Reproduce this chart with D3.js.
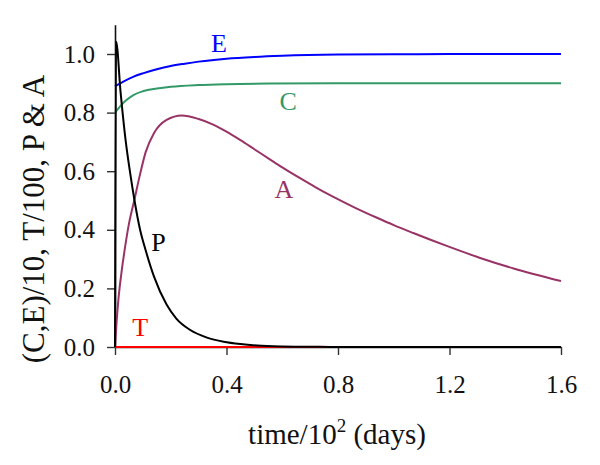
<!DOCTYPE html>
<html>
<head>
<meta charset="utf-8">
<script src="https://cdn.jsdelivr.net/npm/d3@7"></script>
<style>
  html, body { margin: 0; padding: 0; background: #fff; }
  svg { display: block; }
  text { font-family: "Liberation Serif", "Times New Roman", serif; }
</style>
</head>
<body>
<svg id="chart" width="600" height="465"></svg>
<script>
// ---- data (time in units of 10^2 days) ----
const xTicks = [0.0, 0.4, 0.8, 1.2, 1.6];
const yTicks = [0.0, 0.2, 0.4, 0.6, 0.8, 1.0];

const seriesNames = ["T", "A", "C", "E", "P"];
const seriesColors = ["#ff0000", "#993366", "#339966", "#0000ff", "#000000"];

const tE = [0, 0.03, 0.065, 0.1, 0.15, 0.2, 0.25, 0.3, 0.4, 0.5, 0.6, 0.8, 1.0, 1.2, 1.6];
const vE = [0.89, 0.906, 0.922, 0.934, 0.948, 0.959, 0.967, 0.974, 0.984, 0.990, 0.994, 0.998, 0.999, 1.0, 1.0];

const tC = [0, 0.02, 0.04, 0.066, 0.1, 0.15, 0.2, 0.3, 0.4, 0.55, 0.8, 1.2, 1.6];
const vC = [0.80, 0.823, 0.842, 0.860, 0.873, 0.882, 0.888, 0.894, 0.897, 0.899, 0.90, 0.90, 0.90];

const tA = [0, 0.006, 0.012, 0.024, 0.036, 0.05, 0.069, 0.09, 0.11, 0.14, 0.185, 0.24, 0.3, 0.35, 0.4, 0.45, 0.5, 0.55, 0.6, 0.664, 0.72, 0.78, 0.86, 0.94, 1.0, 1.07, 1.19, 1.31, 1.43, 1.6];
const vA = [0, 0.09, 0.16, 0.26, 0.34, 0.42, 0.50, 0.59, 0.665, 0.73, 0.775, 0.79, 0.778, 0.760, 0.735, 0.706, 0.675, 0.644, 0.613, 0.576, 0.545, 0.514, 0.476, 0.441, 0.416, 0.389, 0.345, 0.304, 0.268, 0.225];

const tP = [0, 0.004, 0.02, 0.038, 0.055, 0.07, 0.09, 0.11, 0.14, 0.185, 0.22, 0.27, 0.33, 0.39, 0.45, 0.51, 0.6, 0.7, 0.8, 1.0, 1.2, 1.6];
const vP = [0, 1.042, 0.87, 0.706, 0.59, 0.50, 0.40, 0.33, 0.24, 0.145, 0.097, 0.058, 0.032, 0.018, 0.010, 0.005, 0.002, 0.001, 0, 0, 0, 0];

const tT = [0, 0.4, 0.8, 1.2, 1.6];
const vT = [0, 0, 0, 0, 0];

// label anchors (data coords)
const labelText = ["E", "C", "A", "P", "T"];
const labelT = [0.373, 0.621, 0.606, 0.156, 0.09];
const labelV = [1.007, 0.809, 0.51, 0.329, 0.039];
const labelColor = ["#0000ff", "#339966", "#993366", "#000000", "#ff0000"];

const xTitle = "time/10";
const xTitleSup = "2";
const xTitleEnd = " (days)";
const yTitle = "(C,E)/10, T/100, P & A";

// ---- drawing ----
const svg = d3.select("#chart");
const x = d3.scaleLinear().domain([0, 1.6]).range([115, 561]);
const y = d3.scaleLinear().domain([0, 1.1]).range([347, 24.7]);

const xAxis = d3.axisBottom(x).tickValues(xTicks).tickFormat(d3.format(".1f"))
  .tickSize(8).tickSizeOuter(0).tickPadding(20);
const yAxis = d3.axisLeft(y).tickValues(yTicks).tickFormat(d3.format(".1f"))
  .tickSize(8).tickSizeOuter(0).tickPadding(12);

const gx = svg.append("g").attr("transform", `translate(0,${y(0)})`).call(xAxis);
const gy = svg.append("g").attr("transform", `translate(${x(0)},0)`).call(yAxis);
[gx, gy].forEach(g => {
  g.select(".domain").attr("stroke", "#111").attr("stroke-width", 1.6);
  g.selectAll(".tick line").attr("stroke", "#333").attr("stroke-width", 1.4);
  g.selectAll(".tick text").attr("fill", "#111")
    .style("font-family", "'Liberation Serif', serif").style("font-size", "25px");
});

const line = d3.line().x(d => x(d[0])).y(d => y(d[1])).curve(d3.curveMonotoneX);
const seriesData = {
  T: d3.zip(tT, vT),
  A: d3.zip(tA, vA),
  C: d3.zip(tC, vC),
  E: d3.zip(tE, vE),
  P: d3.zip(tP, vP)
};
seriesNames.forEach((n, i) => {
  svg.append("path")
    .attr("d", line(seriesData[n]))
    .attr("fill", "none")
    .attr("stroke", seriesColors[i])
    .attr("stroke-width", 2)
    .attr("stroke-linejoin", "round");
});

labelText.forEach((s, i) => {
  svg.append("text")
    .attr("x", x(labelT[i])).attr("y", y(labelV[i]))
    .attr("text-anchor", "middle")
    .attr("fill", labelColor[i])
    .style("font-size", "26px")
    .text(s);
});

const xt = svg.append("text")
  .attr("x", 337).attr("y", 444)
  .attr("text-anchor", "middle")
  .attr("fill", "#111")
  .style("font-size", "29px");
xt.append("tspan").text(xTitle);
xt.append("tspan").attr("dy", -12).style("font-size", "19px").text(xTitleSup);
xt.append("tspan").attr("dy", 12).text(xTitleEnd);

svg.append("text")
  .attr("transform", "translate(44,219) rotate(-90)")
  .attr("text-anchor", "middle")
  .attr("fill", "#111")
  .style("font-size", "31px")
  .text(yTitle);
</script>
</body>
</html>
